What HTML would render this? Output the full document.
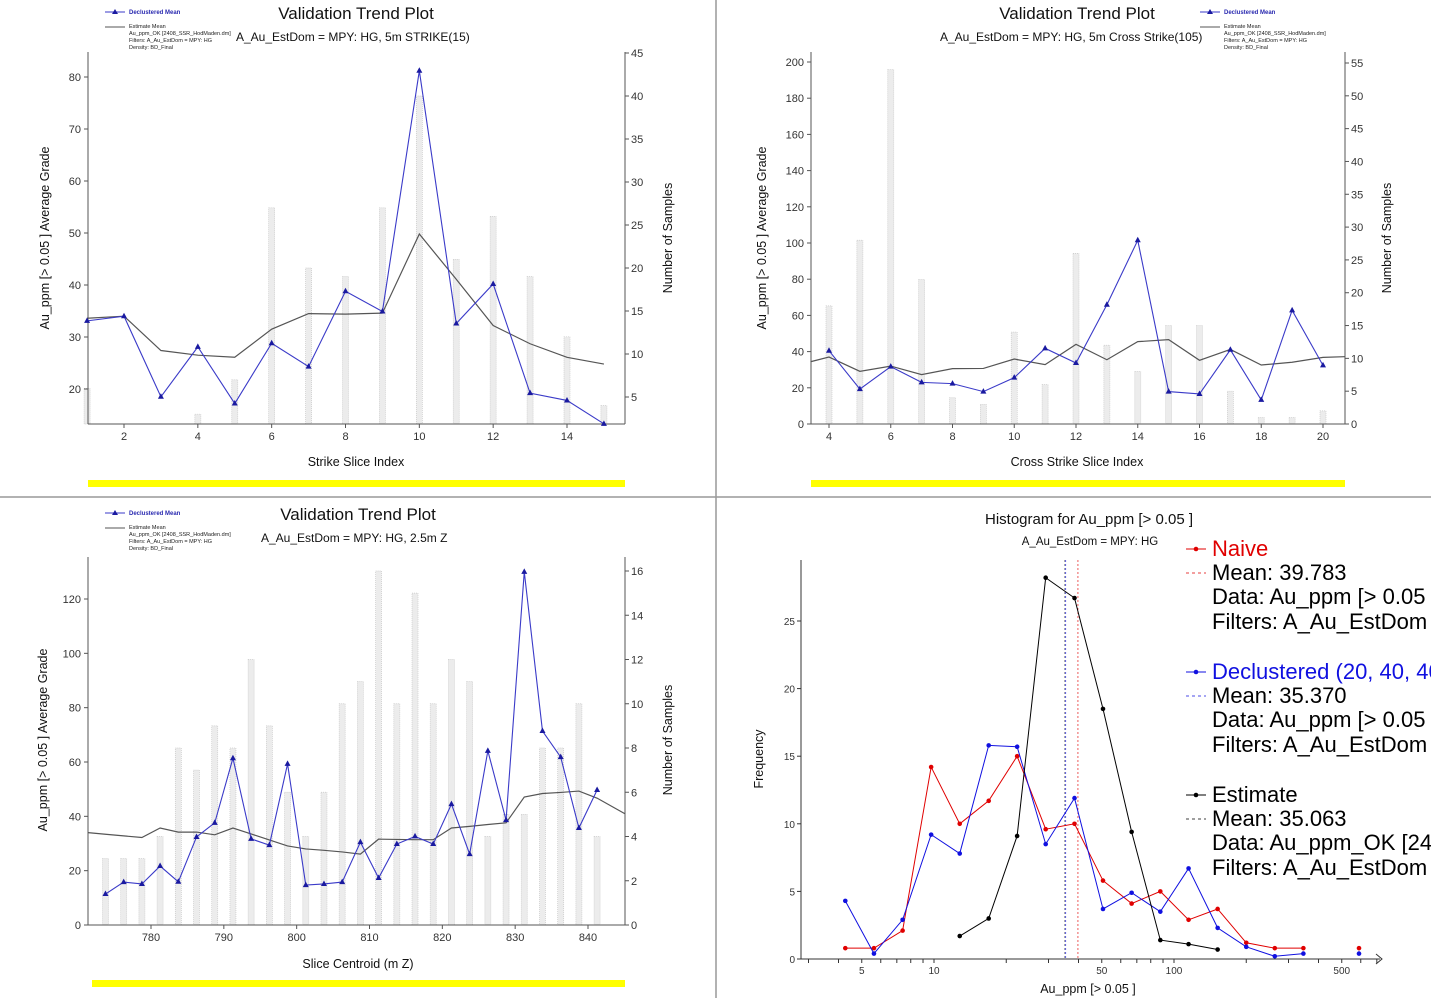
<!DOCTYPE html>
<html><head><meta charset="utf-8"><style>
html,body{margin:0;padding:0;background:#fff;width:1431px;height:998px;overflow:hidden}
svg{display:block;font-family:"Liberation Sans",sans-serif}
</style></head><body>
<svg id="root" width="1431" height="998" viewBox="0 0 1431 998" xmlns="http://www.w3.org/2000/svg">
<rect x="0" y="0" width="1431" height="998" fill="#fff"/>
<line x1="716" y1="0" x2="716" y2="998" stroke="#999" stroke-width="1.5"/>
<line x1="0" y1="497" x2="1431" y2="497" stroke="#999" stroke-width="1.5"/>
<rect x="88" y="480" width="537" height="7" fill="#ffff00"/>
<rect x="811" y="480" width="534" height="7" fill="#ffff00"/>
<rect x="92" y="980" width="533" height="7" fill="#ffff00"/>
<g id="p1"></g>
<g id="p2"></g>
<g id="p3"></g>
<g id="p4"></g>
</svg>
<script>
// ---- Panel 1: strike ----
const p1Cats=[1,2,3,4,5,6,7,8,9,10,11,12,13,14,15];
const p1Decl=[33.1,34,18.5,28.1,17.2,28.8,24.3,38.8,34.9,81.2,32.6,40.2,19.2,17.8,13.3];
const p1EstX=[1,2,3,4,5,6,7,8,9,10,11,12,13,14,15];
const p1Est=[33.6,34,27.4,26.5,26.1,31.5,34.5,34.4,34.6,49.8,41.1,32.2,28.7,26.1,24.8];
const p1Counts=[6,0,0,3,7,27,20,19,27,40,21,26,19,12,4];
const p1LeftTicks=[20,30,40,50,60,70,80];
const p1RightTicks=[5,10,15,20,25,30,35,40,45];
const p1XTicks=[2,4,6,8,10,12,14];
// ---- Panel 2: cross strike ----
const p2Cats=[4,5,6,7,8,9,10,11,12,13,14,15,16,17,18,19,20];
const p2Decl=[40.5,19.3,31.7,23,22.3,17.9,25.6,41.8,33.7,65.9,101.5,17.9,16.6,41,13.3,62.8,32.4];
const p2EstX=[3.4,4,5,6,7,8,9,10,11,12,13,14,15,16,17,18,19,20,20.7];
const p2Est=[34.4,37,29.1,32,27.3,30.6,30.7,35.9,32.8,44,35.5,45.5,46.6,35.2,41.2,32.6,34.1,36.8,37.2];
const p2Counts=[18,28,54,22,4,3,14,6,26,12,8,15,15,5,1,1,2];
const p2LeftTicks=[0,20,40,60,80,100,120,140,160,180,200];
const p2RightTicks=[0,5,10,15,20,25,30,35,40,45,50,55];
const p2XTicks=[4,6,8,10,12,14,16,18,20];
// ---- Panel 3: Z ----
const p3Cats=[773.75,776.25,778.75,781.25,783.75,786.25,788.75,791.25,793.75,796.25,798.75,801.25,803.75,806.25,808.75,811.25,813.75,816.25,818.75,821.25,823.75,826.25,828.75,831.25,833.75,836.25,838.75,841.25];
const p3Decl=[11.4,15.8,15.1,21.7,15.9,32.4,37.6,61.4,31.7,29.4,59.3,14.7,15.1,15.8,30.5,17.3,29.8,32.6,29.8,44.5,26.1,64.1,38.6,130,71.4,61.8,35.7,49.7];
const p3EstX=[771.35,773.75,776.25,778.75,781.25,783.75,786.25,788.75,791.25,793.75,796.25,798.75,801.25,803.75,806.25,808.75,811.25,813.75,816.25,818.75,821.25,823.75,826.25,828.75,831.25,833.75,836.25,838.75,841.25,845.1];
const p3Est=[34,33.4,32.8,32.2,35.7,34.2,34.2,33.2,35.7,33.5,31.3,29.1,28,27.5,26.9,26.1,31.6,31.5,31.4,31.4,35.7,36.3,37,37.6,47.1,48.4,48.8,49.3,46.7,40.9];
const p3Counts=[3,3,3,4,8,7,9,8,12,9,6,4,6,10,11,16,10,15,10,12,11,4,5,5,8,8,10,4];
const p3LeftTicks=[0,20,40,60,80,100,120];
const p3RightTicks=[0,2,4,6,8,10,12,14,16];
const p3XTicks=[780,790,800,810,820,830,840];
// ---- Panel 4: histogram ----
const histBins=[4.27,5.62,7.40,9.73,12.8,16.9,22.2,29.2,38.5,50.6,66.6,87.7,115,152,200,263,346,455,590];
const histNaive=[0.8,0.8,2.1,14.2,10.0,11.7,15.0,9.6,10.0,5.8,4.1,5.0,2.9,3.7,1.2,0.8,0.8,null,0.8];
const histDecl=[4.3,0.4,2.9,9.2,7.8,15.8,15.7,8.5,11.9,3.7,4.9,3.5,6.7,2.3,0.9,0.2,0.4,null,0.4];
const histEst=[null,null,null,null,1.7,3.0,9.1,28.2,26.7,18.5,9.4,1.4,1.1,0.7,null,null,null,null,null];
const histMeans=[39.783,35.370,35.063];
const histYTicks=[0,5,10,15,20,25];
const histXTicks=[5,10,50,100,500];

const NS="http://www.w3.org/2000/svg";
function mk(parent,tag,attrs,text){const e=document.createElementNS(NS,tag);for(const k in attrs)e.setAttribute(k,attrs[k]);if(text!==undefined)e.textContent=text;parent.appendChild(e);return e;}
function lin(d0,d1,r0,r1){return v=>r0+(v-d0)*(r1-r0)/(d1-d0);}

function legend(g,x,y){
  const a=mk(g,'g',{});
  
  
  mk(a,'line',{x1:x,y1:y,x2:x+20,y2:y,stroke:'#3a3ac8','stroke-width':1});
  mk(a,'path',{d:`M${x+10},${y-3} l3,5 h-6z`,fill:'#1a1aa0'});
  mk(a,'text',{x:x+24,y:y+2,'font-size':6,fill:'#2a2ab0','font-weight':'bold'},'Declustered Mean');
  mk(a,'line',{x1:x,y1:y+15,x2:x+20,y2:y+15,stroke:'#555','stroke-width':1});
  const lines=['Estimate Mean','Au_ppm_OK [2408_SSR_HodMaden.dm]','Filters: A_Au_EstDom = MPY: HG','Density: BD_Final'];
  lines.forEach((t,i)=>mk(a,'text',{x:x+24,y:y+16+i*7,'font-size':5.5,fill:'#222'},t));
}

function trend(id,cfg){
  const g=document.getElementById(id);
  const {x0,x1,y0,y1,xs,yL,yR,cats,decl,estX,est,counts,lt,rt,xt}=cfg;
  counts.forEach((c,i)=>{ if(!c) return;
    const b=mk(g,'rect',{x:xs(cats[i])-3,y:yR(c),width:6,height:y1-yR(c),fill:'#ececec',stroke:'#c8c8c8','stroke-width':0.7,'stroke-dasharray':'1,1'});
    
    
  });
  mk(g,'line',{x1:x0,y1:y0,x2:x0,y2:y1,stroke:'#555'});
  mk(g,'line',{x1:x1,y1:y0,x2:x1,y2:y1,stroke:'#555'});
  mk(g,'line',{x1:x0,y1:y1,x2:x1,y2:y1,stroke:'#555'});
  lt.forEach(v=>{const y=yL(v);mk(g,'line',{x1:x0-4,y1:y,x2:x0,y2:y,stroke:'#555'});mk(g,'text',{x:x0-7,y:y+4,'font-size':11,'text-anchor':'end',fill:'#333'},v);});
  rt.forEach(v=>{const y=yR(v);mk(g,'line',{x1:x1,y1:y,x2:x1+4,y2:y,stroke:'#555'});mk(g,'text',{x:x1+6,y:y+4,'font-size':11,fill:'#333'},v);});
  xt.forEach(v=>{const x=xs(v);mk(g,'line',{x1:x,y1:y1,x2:x,y2:y1+4,stroke:'#555'});mk(g,'text',{x:x,y:y1+16,'font-size':11,'text-anchor':'middle',fill:'#333'},v);});
  const ep=mk(g,'polyline',{points:estX.map((v,i)=>xs(v)+','+yL(est[i])).join(' '),fill:'none',stroke:'#555','stroke-width':1.2});
  
  
  const dp=mk(g,'polyline',{points:cats.map((v,i)=>xs(v)+','+yL(decl[i])).join(' '),fill:'none',stroke:'#3a3ac8','stroke-width':1.1});
  
  
  cats.forEach((v,i)=>{const x=xs(v),y=yL(decl[i]);
    const m=mk(g,'path',{d:`M${x},${y-3.5} l3,5.5 h-6z`,fill:'#1a1aa0'});
    
    
  });
}

trend('p1',{x0:88,x1:625,y0:52,y1:424,xs:lin(2,14,124,567),yL:lin(20,80,389,77),yR:lin(5,45,397,53),
  cats:p1Cats,decl:p1Decl,estX:p1EstX,est:p1Est,counts:p1Counts,lt:p1LeftTicks,rt:p1RightTicks,xt:p1XTicks});
trend('p2',{x0:811,x1:1345,y0:52,y1:424,xs:lin(4,20,829,1323),yL:lin(0,200,424,62),yR:lin(0,55,424,63),
  cats:p2Cats,decl:p2Decl,estX:p2EstX,est:p2Est,counts:p2Counts,lt:p2LeftTicks,rt:p2RightTicks,xt:p2XTicks});
trend('p3',{x0:88,x1:625,y0:557,y1:925,xs:lin(780,840,151,588),yL:lin(0,120,925,599),yR:lin(0,16,925,571),
  cats:p3Cats,decl:p3Decl,estX:p3EstX,est:p3Est,counts:p3Counts,lt:p3LeftTicks,rt:p3RightTicks,xt:p3XTicks});

function titles(id,cx,ty,sub,sx,sy,xl,xly,yl,ylx,yly,nlx,lgx,lgy){
  const g=document.getElementById(id);
  const t=mk(g,'text',{x:cx,y:ty,'font-size':17,'text-anchor':'middle',fill:'#111'},'Validation Trend Plot');
  
  
  const s=mk(g,'text',{x:sx,y:sy,'font-size':12,fill:'#111'},sub);
  
  
  const xa=mk(g,'text',{x:cx,y:xly,'font-size':12.5,'text-anchor':'middle',fill:'#111'},xl);
  
  
  const ya=mk(g,'text',{x:0,y:0,'font-size':12.5,'text-anchor':'middle',fill:'#111',transform:`translate(${ylx},${yly}) rotate(-90)`},'Au_ppm [> 0.05 ] Average Grade');
  
  
  const yb=mk(g,'text',{x:0,y:0,'font-size':12.5,'text-anchor':'middle',fill:'#111',transform:`translate(${nlx},${yly}) rotate(-90)`},'Number of Samples');
  
  
  legend(g,lgx,lgy);
}
titles('p1',356,19,'A_Au_EstDom = MPY: HG, 5m STRIKE(15)',236,41,'Strike Slice Index',466,'',49,238,672,105,12);
titles('p2',1077,19,'A_Au_EstDom = MPY: HG, 5m Cross Strike(105)',940,41,'Cross Strike Slice Index',466,'',766,238,1391,1200,12);
titles('p3',358,520,'A_Au_EstDom = MPY: HG, 2.5m Z',261,542,'Slice Centroid (m Z)',968,'',47,740,672,105,513);

(function(){
  const g=document.getElementById('p4');
  const X0=801,X1=1380,Y0=560,Y1=959;
  const xs=v=>934+240*Math.log10(v/10);
  const ys=lin(0,25,959,621);
  mk(g,'line',{x1:X0,y1:Y0,x2:X0,y2:Y1,stroke:'#333'});
  mk(g,'line',{x1:X0,y1:Y1,x2:X1,y2:Y1,stroke:'#333'});
  mk(g,'path',{d:`M${X1-4},${Y1-5} L${X1+2},${Y1} L${X1-4},${Y1+5}`,fill:'none',stroke:'#333'});
  histYTicks.forEach(v=>{const y=ys(v);mk(g,'line',{x1:X0-4,y1:y,x2:X0,y2:y,stroke:'#333'});mk(g,'text',{x:X0-6,y:y+4,'font-size':10,'text-anchor':'end',fill:'#333'},v);});
  const minor=[3,4,5,6,7,8,9,10,20,30,40,50,60,70,80,90,100,200,300,400,500,600,700];
  minor.forEach(v=>{const x=xs(v);mk(g,'line',{x1:x,y1:Y1,x2:x,y2:Y1+4,stroke:'#333'});});
  histXTicks.forEach(v=>{mk(g,'text',{x:xs(v),y:974,'font-size':10,'text-anchor':'middle',fill:'#333'},v);});
  const cols=['#e00000','#1010e0','#000'];
  histMeans.forEach((m,i)=>{const l=mk(g,'line',{x1:xs(m),y1:Y0,x2:xs(m),y2:Y1,stroke:cols[i],'stroke-width':0.8,'stroke-dasharray':'2,2',opacity:i==2?0.5:0.8});
    
    });
  const series=[histNaive,histDecl,histEst];
  const names=['naive-series','declustered-series','estimate-series'];
  series.forEach((s,si)=>{
    let seg=[];
    const flush=()=>{if(seg.length>1){const p=mk(g,'polyline',{points:seg.join(' '),fill:'none',stroke:cols[si],'stroke-width':1});
      
      }seg=[];};
    s.forEach((v,i)=>{if(v===null){flush();return;}seg.push(xs(histBins[i])+','+ys(v));});
    flush();
    s.forEach((v,i)=>{if(v===null)return;const c=mk(g,'circle',{cx:xs(histBins[i]),cy:ys(v),r:2.3,fill:cols[si]});
      
      });
  });
  const t=mk(g,'text',{x:1089,y:524,'font-size':15,'text-anchor':'middle',fill:'#111'},'Histogram for Au_ppm [> 0.05 ]');
  
  
  mk(g,'text',{x:1090,y:545,'font-size':11.5,'text-anchor':'middle',fill:'#111'},'A_Au_EstDom = MPY: HG');
  const xl=mk(g,'text',{x:1088,y:993,'font-size':12.5,'text-anchor':'middle',fill:'#111'},'Au_ppm [> 0.05 ]');
  
  
  const yl=mk(g,'text',{x:0,y:0,'font-size':12.5,'text-anchor':'middle',fill:'#111',transform:'translate(763,759) rotate(-90)'},'Frequency');
  
  
  const blocks=[
    {y:556,c:'#e00000',name:'Naive',mean:'Mean: 39.783',d:'Data: Au_ppm [> 0.05 ]'},
    {y:679,c:'#1010e0',name:'Declustered (20, 40, 40)',mean:'Mean: 35.370',d:'Data: Au_ppm [> 0.05 ]'},
    {y:802,c:'#000',name:'Estimate',mean:'Mean: 35.063',d:'Data: Au_ppm_OK [2408_SSR_HodMaden.dm]'}];
  blocks.forEach(b=>{
    const lg=mk(g,'g',{});
    
    
    mk(lg,'line',{x1:1186,y1:b.y-7,x2:1206,y2:b.y-7,stroke:b.c});
    mk(lg,'circle',{cx:1196,cy:b.y-7,r:2.3,fill:b.c});
    mk(lg,'text',{x:1212,y:b.y,'font-size':22,fill:b.c},b.name);
    mk(lg,'line',{x1:1186,y1:b.y+17,x2:1206,y2:b.y+17,stroke:b.c,'stroke-dasharray':'3,3','stroke-width':0.8});
    mk(lg,'text',{x:1212,y:b.y+24,'font-size':22,fill:'#000'},b.mean);
    mk(lg,'text',{x:1212,y:b.y+48,'font-size':22,fill:'#000'},b.d);
    mk(lg,'text',{x:1212,y:b.y+73,'font-size':22,fill:'#000'},'Filters: A_Au_EstDom = MPY: HG');
  });
})();
</script>
</body></html>
